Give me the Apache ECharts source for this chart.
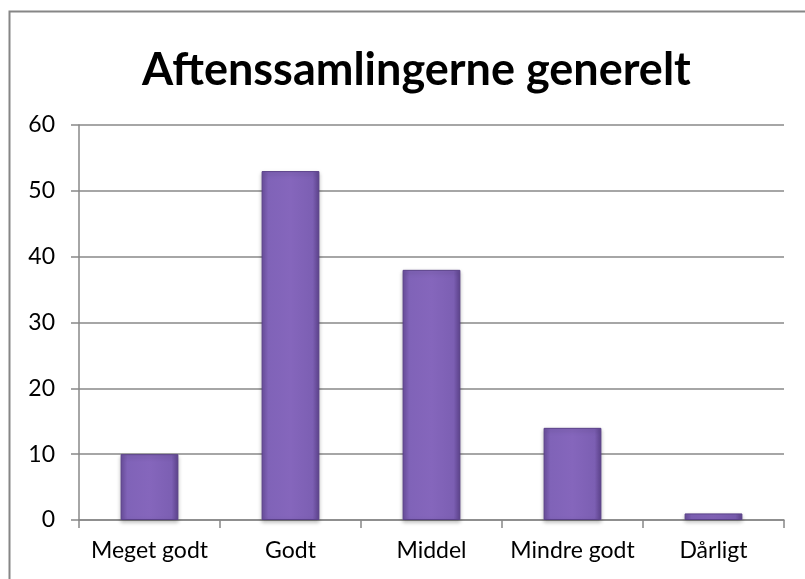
<!DOCTYPE html>
<html>
<head>
<meta charset="utf-8">
<script src="https://cdn.jsdelivr.net/npm/echarts@6/dist/echarts.min.js"></script>
<style>
  html, body { margin: 0; padding: 0; background: #fff; }
  #chart { width: 805px; height: 579px; }
</style>
</head>
<body>
<div id="chart"></div>
<script>
const categories = ['Meget godt', 'Godt', 'Middel', 'Mindre godt', 'Dårligt']
const values = [10, 53, 38, 14, 1]
const titleText = 'Aftenssamlingerne generelt'

const chart = echarts.init(document.getElementById('chart'))

// bar fill: darker edges, lighter middle (imitates the bevelled bars)
const barFill = new echarts.graphic.LinearGradient(0, 0, 1, 0, [
  { offset: 0, color: '#6b4f9e' },
  { offset: 0.12, color: '#8063b8' },
  { offset: 0.5, color: '#8566bc' },
  { offset: 0.88, color: '#7c5fb3' },
  { offset: 1, color: '#5f4590' }
])

chart.setOption({
  animation: false,
  textStyle: { fontFamily: 'Lato, "Open Sans", sans-serif' },
  title: {
    text: titleText,
    left: 137,
    top: 43,
    textStyle: {
      fontSize: 45,
      fontWeight: 'bold',
      color: '#000',
      fontFamily: 'Lato, "Open Sans", sans-serif'
    }
  },
  graphic: [{
    type: 'rect',
    shape: { x: 9.5, y: 11.5, width: 820, height: 600 },
    style: { fill: 'none', stroke: '#868686', lineWidth: 2 },
    silent: true
  }],
  grid: {
    left: 79,
    right: 21,
    top: 125,
    bottom: 59
  },
  xAxis: {
    type: 'category',
    data: categories,
    axisLine: { lineStyle: { color: '#888', width: 1.5 } },
    axisTick: { show: true, length: 8, alignWithLabel: false, lineStyle: { color: '#888', width: 1.5 } },
    axisLabel: { color: '#000', fontSize: 23, margin: 19, interval: 0 }
  },
  yAxis: {
    type: 'value',
    min: 0,
    max: 60,
    interval: 10,
    axisLine: { show: true, lineStyle: { color: '#888', width: 1.5 } },
    axisTick: { show: true, length: 8, lineStyle: { color: '#888', width: 1.5 } },
    axisLabel: { color: '#000', fontSize: 23, margin: 24 },
    splitLine: { lineStyle: { color: '#888', width: 1.5 } }
  },
  series: [{
    type: 'bar',
    data: values,
    barWidth: '41%',
    itemStyle: {
      color: barFill,
      borderColor: '#5a4088',
      borderWidth: 1,
      shadowColor: 'rgba(0,0,0,0.25)',
      shadowBlur: 4,
      shadowOffsetY: 2
    }
  }]
})
</script>
</body>
</html>
